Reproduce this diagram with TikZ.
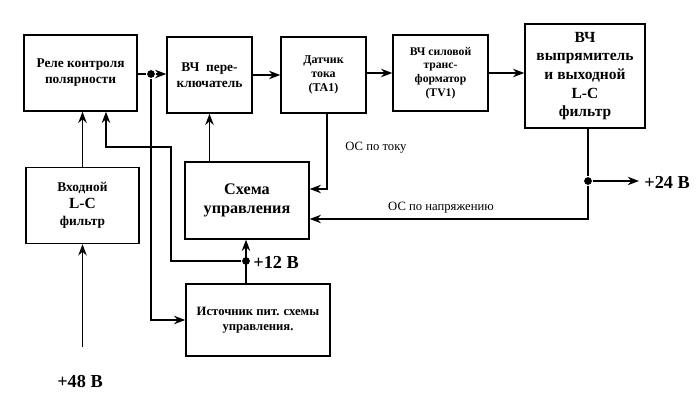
\documentclass[tikz,border=0pt]{standalone}
\usepackage{fontspec}
\setmainfont{Liberation Serif}
\usetikzlibrary{arrows.meta}

\tikzset{
  blk/.style={draw, line width=1pt, align=center, inner sep=1pt},
  jdot/.style={circle, fill, inner sep=0pt, minimum size=5.5pt},
  volt/.style={font=\bfseries\fontsize{13}{15}\selectfont},
  fb/.style={font=\fontsize{9}{11}\selectfont},
}

\begin{document}
\begin{tikzpicture}[x=0.025cm,y=-0.025cm,line width=1pt,>={Stealth[length=8pt,width=6pt]}]
\useasboundingbox (0,0) rectangle (700,400);

% blocks
\node[blk,minimum width=2.825cm,minimum height=1.9cm,font=\bfseries\fontsize{9.5}{11.4}\selectfont] (relay) at (80.5,73) {Реле контроля\\полярности};
\node[blk,minimum width=2.125cm,minimum height=1.9cm,font=\bfseries\fontsize{9.5}{11.4}\selectfont] (switch) at (209.5,75) {ВЧ\ \ пере-\\ключатель};
\node[blk,minimum width=2.125cm,minimum height=1.9cm,font=\bfseries\fontsize{8.5}{10}\selectfont] (sensor) at (323.5,75) {Датчик\\тока\\(TA1)};
\node[blk,minimum width=2.375cm,minimum height=1.9cm,font=\bfseries\fontsize{8.3}{9.7}\selectfont] (trafo) at (440.5,73) {ВЧ силовой\\транс-\\форматор\\(TV1)};
\node[blk,minimum width=3cm,minimum height=2.6cm,font=\bfseries\fontsize{11}{13.3}\selectfont] (rect) at (585,76) {ВЧ\\выпрямитель\\и выходной\\L-C\\фильтр};
\node[blk,minimum width=2.825cm,minimum height=1.9cm,font=\bfseries\fontsize{9.5}{12}\selectfont] (infilt) at (82.5,205.5) {Входной\\{\fontsize{11}{12}\selectfont L-C}\\фильтр};
\node[blk,minimum width=3.1cm,minimum height=1.925cm,font=\bfseries\fontsize{11.5}{13.5}\selectfont] (ctrl) at (247,200.5) {Схема\\управления};
\node[blk,minimum width=3.6cm,minimum height=1.8cm,font=\bfseries\fontsize{9}{10.7}\selectfont] (supply) at (258,320) {Источник пит. схемы\\управления.};

% labels
\node[volt,anchor=west] (v24) at (639,182) {+24 В};
\node[volt,anchor=west] (v12) at (248,262) {+12 В};
\node[volt] (v48) at (80,382) {+48 В};
\node[fb] (oci) at (376,148) {ОС по току};
\node[fb] (ocu) at (441,208) {ОС по напряжению};

% junctions
\node[jdot] (jA) at (151,74) {};
\node[jdot] (jB) at (588,181) {};
\node[jdot] (jC) at (246,261) {};
\coordinate (fbU) at (588,219);
\coordinate (fbI) at (327,189);
\coordinate (bA) at (171,147);
\coordinate (bB) at (106,147);
\coordinate (in48) at (82.5,347);

% power path
\draw (relay.east |- jA) -- (jA);
\draw[->] (jA) -- (switch.west |- jA);
\draw[->] (switch) -- (sensor);
\draw[->] (sensor.east |- trafo) -- (trafo.west);
\draw[->] (trafo.east) -- (rect.west |- trafo.east);
\draw[->] (infilt.north) -- (relay.south -| infilt.north);
\draw[->] (in48) -- (infilt.south);
\draw (rect.south -| jB) -- (jB);
\draw[->] (jB) -- (v24.west |- jB);

% feedback and control
\draw[->] (jB) -- (fbU) -- (ctrl.east |- fbU);
\draw[->] (sensor.south -| fbI) -- (fbI) -- (ctrl.east |- fbI);
\draw[->] (ctrl.north -| switch.south) -- (switch.south);
\draw[->] (jA) |- (supply.west);
\draw[->] (supply.north -| jC) -- (ctrl.south -| jC);
\draw[->] (jC) -| (bA) -- (bB) -- (relay.south -| bB);
\end{tikzpicture}
\end{document}
